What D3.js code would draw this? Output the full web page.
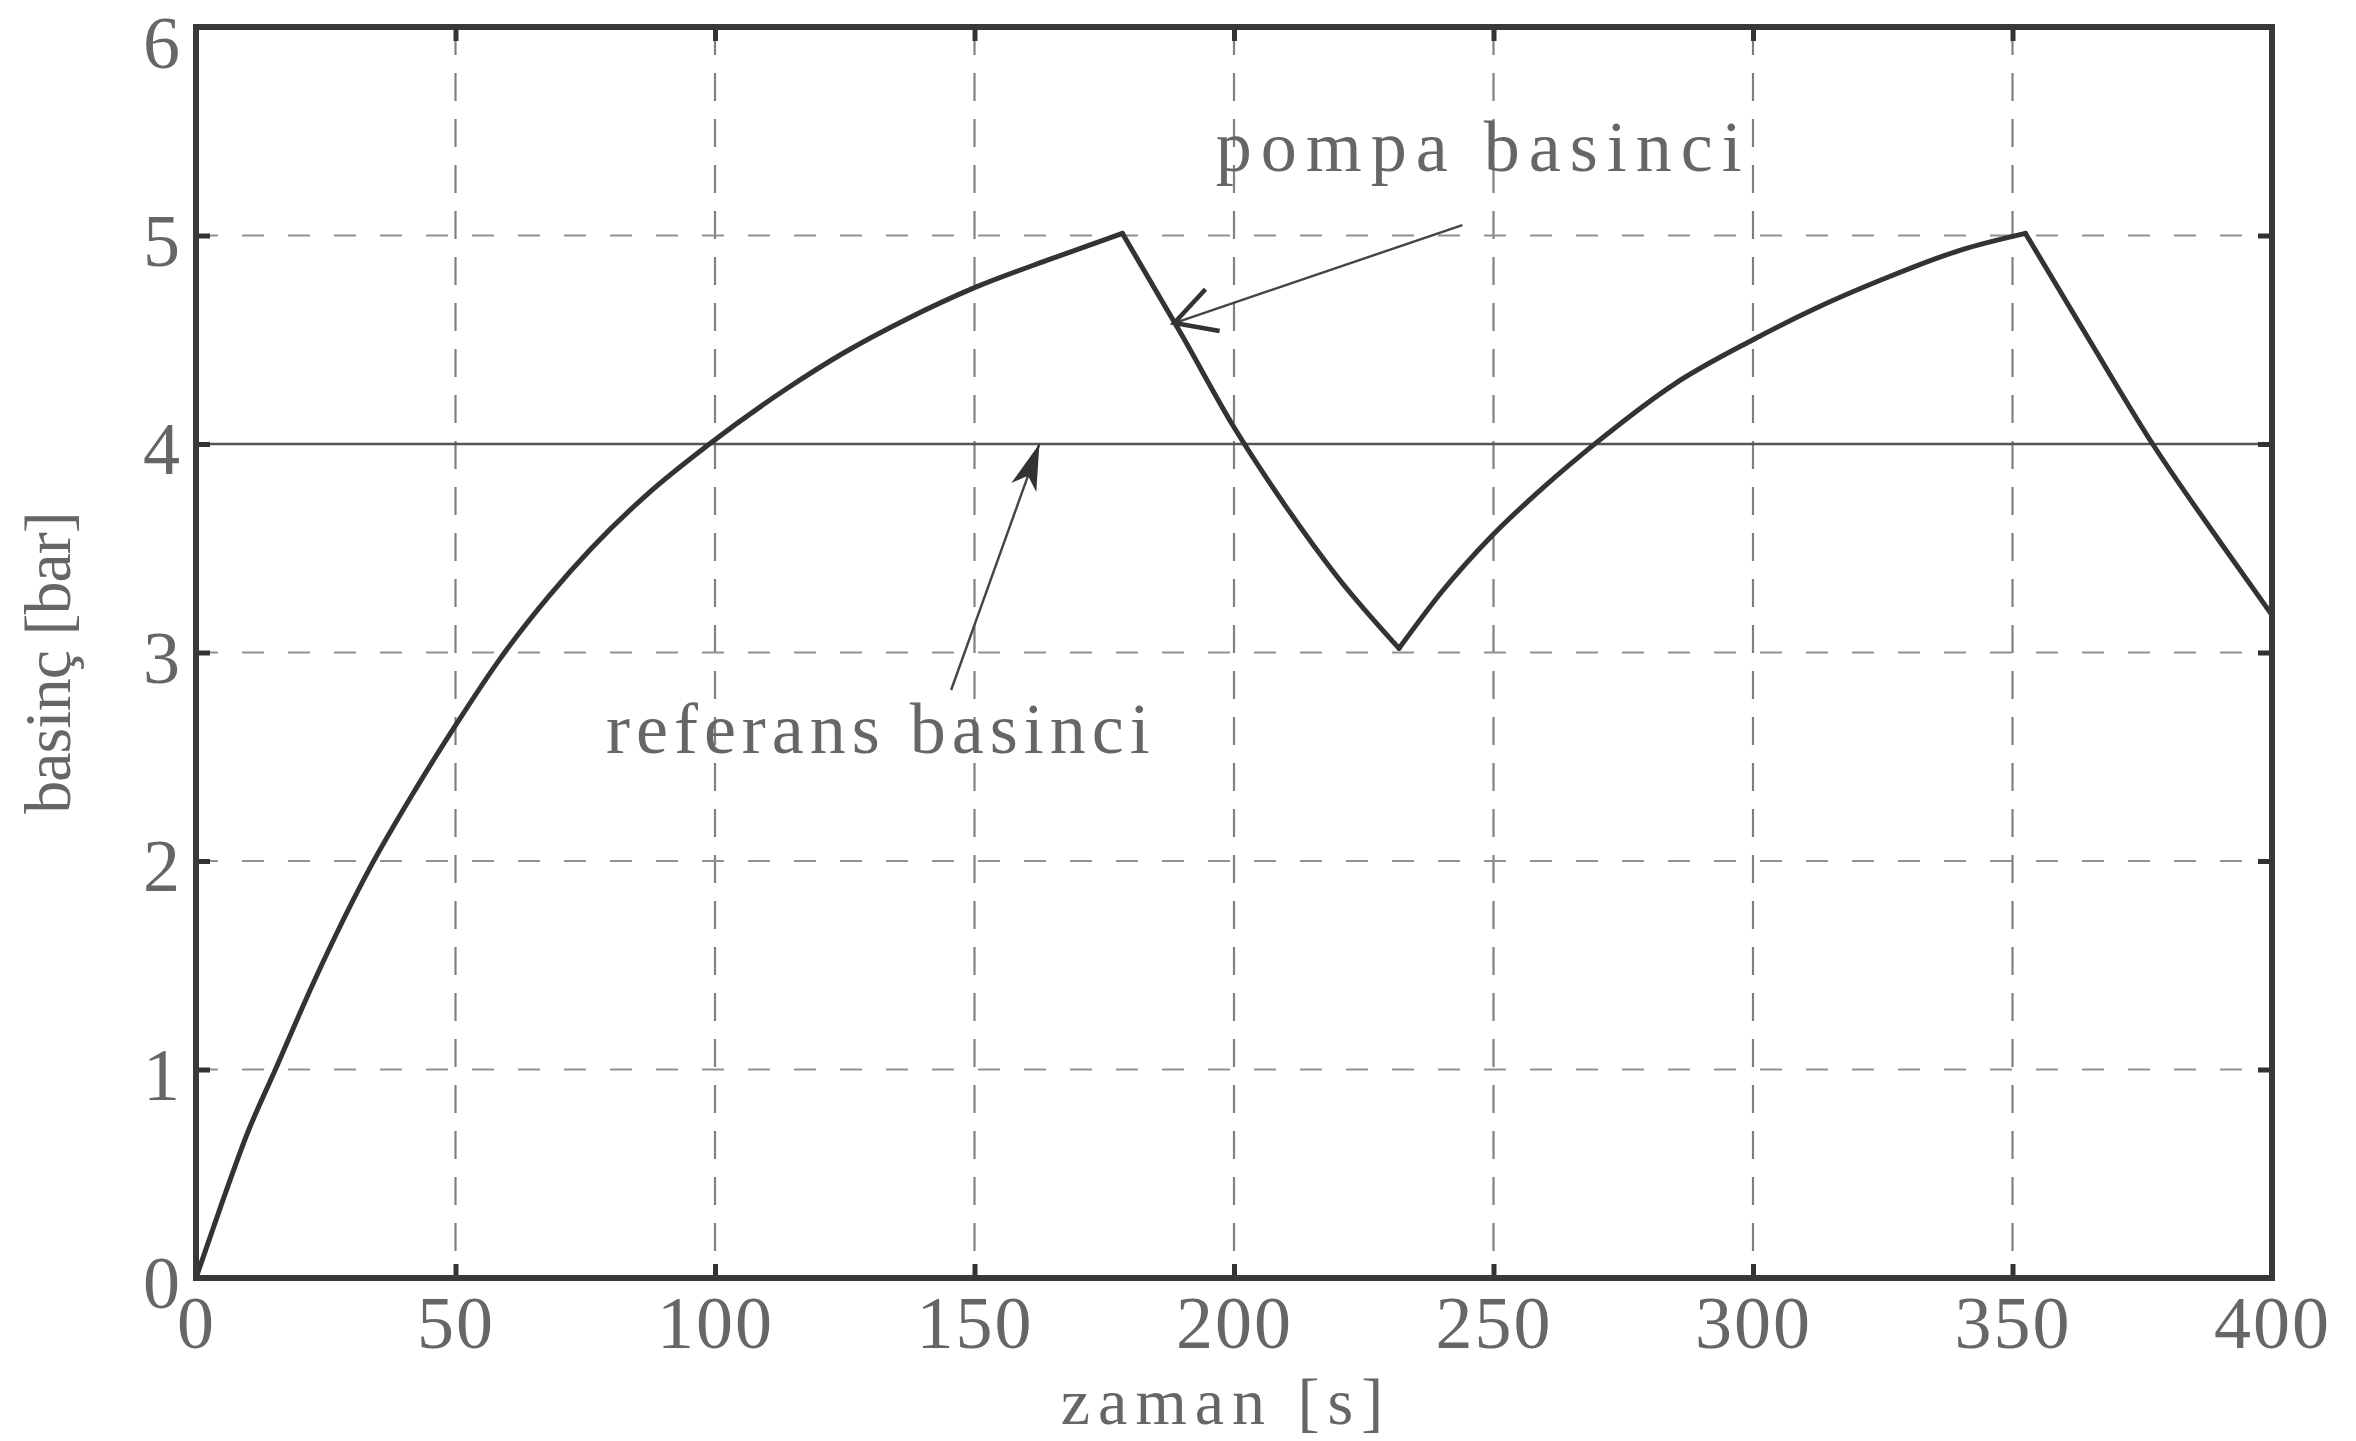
<!DOCTYPE html>
<html>
<head>
<meta charset="utf-8">
<script src="https://cdn.jsdelivr.net/npm/d3@7"></script>
<style>
  html, body { margin: 0; padding: 0; background: #ffffff; }
  svg { display: block; }
  text { font-family: "Liberation Serif", "DejaVu Serif", serif; fill: #666; }
</style>
</head>
<body>
<svg id="chart" width="2356" height="1441"></svg>
<script>
// ---- data ----
const timeS = [0, 5, 10, 15.3, 22.7, 33.8, 42.2, 50, 58.3, 68, 76.2, 87, 98.4, 113.5, 125, 137, 150, 165, 178.5,
               190, 200, 210, 220, 231.8,
               240, 249.7, 260, 270, 285, 300, 312, 325, 340, 352.5,
               365, 377, 390, 400];
const pumpBar = [0, 0.36, 0.7, 1.0, 1.42, 1.98, 2.34, 2.65, 2.96, 3.27, 3.5, 3.76, 3.99, 4.26, 4.44, 4.6, 4.75, 4.89, 5.01,
                 4.52, 4.08, 3.7, 3.36, 3.02,
                 3.29, 3.56, 3.8, 4.01, 4.29, 4.5, 4.65, 4.79, 4.93, 5.01,
                 4.49, 4.0, 3.53, 3.18];
const refTime = [0, 400];
const refBar = [4, 4];
const xTicks = [0, 50, 100, 150, 200, 250, 300, 350, 400];
const yTicks = [0, 1, 2, 3, 4, 5, 6];
const xTickLabels = ["0", "50", "100", "150", "200", "250", "300", "350", "400"];
const yTickLabels = ["0", "1", "2", "3", "4", "5", "6"];
const xTitle = "zaman [s]";
const yTitle = "basinç [bar]";
const pumpLabel = "pompa basinci";
const refLabel = "referans basinci";
// annotation arrows: [tailTime, tailBar, tipTime, tipBar]
const pumpArrow = [244, 5.05, 188.5, 4.58];
const refArrow = [145.5, 2.82, 162.5, 4.0];
const pumpLabelPos = [196.5, 5.31];
const refLabelPos = [79, 2.52];

// ---- layout ----
const svg = d3.select("#chart");
const L = 196, R = 2272, T = 27, B = 1278;
const x = d3.scaleLinear().domain([0, 400]).range([L, R]);
const y = d3.scaleLinear().domain([0, 6]).range([B, T]);

// grid
const grid = svg.append("g");
grid.selectAll("line.v").data(xTicks.slice(1, -1)).enter().append("line")
  .attr("x1", d => x(d)).attr("x2", d => x(d)).attr("y1", T).attr("y2", B)
  .attr("stroke", "#808080").attr("stroke-width", 2.2).attr("stroke-dasharray", "28,18");
grid.selectAll("line.h").data(yTicks.slice(1, -1)).enter().append("line")
  .attr("y1", d => y(d)).attr("y2", d => y(d)).attr("x1", L).attr("x2", R)
  .attr("stroke", "#909090").attr("stroke-width", 2.2).attr("stroke-dasharray", "22,24");

// reference line
const line = d3.line().x(d => x(d[0])).y(d => y(d[1]));
svg.append("path").datum(refTime.map((t, i) => [t, refBar[i]]))
  .attr("d", line).attr("fill", "none").attr("stroke", "#555").attr("stroke-width", 2.6);

// pump pressure: split at turning points, smooth within each segment
const pts = timeS.map((t, i) => [t, pumpBar[i]]);
const segs = [];
let start = 0;
for (let i = 1; i < pts.length - 1; i++) {
  const a = pts[i][1] - pts[i - 1][1], b = pts[i + 1][1] - pts[i][1];
  if (a * b < 0) { segs.push(pts.slice(start, i + 1)); start = i; }
}
segs.push(pts.slice(start));
const curve = d3.line().x(d => x(d[0])).y(d => y(d[1])).curve(d3.curveMonotoneX);
svg.append("g").selectAll("path").data(segs).enter().append("path")
  .attr("d", curve).attr("fill", "none").attr("stroke", "#333")
  .attr("stroke-width", 5).attr("stroke-linejoin", "miter").attr("stroke-linecap", "round");

// axes
const fs = 74;
const ax = svg.append("g").attr("transform", `translate(0,${B})`)
  .call(d3.axisBottom(x).tickValues(xTicks).tickFormat((d, i) => xTickLabels[i]).tickSize(-14).tickPadding(17));
const ay = svg.append("g").attr("transform", `translate(${L},0)`)
  .call(d3.axisLeft(y).tickValues(yTicks).tickFormat((d, i) => yTickLabels[i]).tickSize(-14).tickPadding(14));
const at = svg.append("g").attr("transform", `translate(0,${T})`)
  .call(d3.axisTop(x).tickValues(xTicks).tickFormat("").tickSize(-14));
const ar = svg.append("g").attr("transform", `translate(${R},0)`)
  .call(d3.axisRight(y).tickValues(yTicks).tickFormat("").tickSize(-14));
[ax, ay, at, ar].forEach(g => {
  g.select(".domain").remove();
  g.selectAll(".tick line").attr("stroke", "#333").attr("stroke-width", 5);
  g.selectAll(".tick text").style("font-family", '"Liberation Serif", serif').style("font-size", fs + "px")
    .style("letter-spacing", "2px").attr("fill", "#666");
});
ay.selectAll(".tick text").attr("dy", d => d === 6 ? "0.55em" : "0.40em");

// frame
svg.append("rect").attr("x", L).attr("y", T).attr("width", R - L).attr("height", B - T)
  .attr("fill", "none").attr("stroke", "#383838").attr("stroke-width", 6);

// titles
svg.append("text").attr("x", 1226).attr("y", 1424).attr("text-anchor", "middle")
  .style("font-size", "66px").style("letter-spacing", "8px").text(xTitle);
svg.append("text").attr("transform", "translate(70,663) rotate(-90)").attr("text-anchor", "middle")
  .style("font-size", "66px").style("letter-spacing", "-1px").text(yTitle);

// annotations
svg.append("text").attr("x", x(pumpLabelPos[0])).attr("y", y(pumpLabelPos[1]))
  .style("font-size", "72px").style("letter-spacing", "9px").text(pumpLabel);
svg.append("text").attr("x", x(refLabelPos[0])).attr("y", y(refLabelPos[1]))
  .style("font-size", "72px").style("letter-spacing", "6px").text(refLabel);

function arrow(a, filled) {
  const x1 = x(a[0]), y1 = y(a[1]), x2 = x(a[2]), y2 = y(a[3]);
  const ang = Math.atan2(y2 - y1, x2 - x1);
  svg.append("line").attr("x1", x1).attr("y1", y1).attr("x2", x2).attr("y2", y2)
    .attr("stroke", "#444").attr("stroke-width", 2.4);
  const len = filled ? 48 : 46, spread = filled ? 0.28 : 0.5;
  const p1 = [x2 - len * Math.cos(ang - spread), y2 - len * Math.sin(ang - spread)];
  const p2 = [x2 - len * Math.cos(ang + spread), y2 - len * Math.sin(ang + spread)];
  if (filled) {
    const pm = [x2 - len * 0.7 * Math.cos(ang), y2 - len * 0.7 * Math.sin(ang)];
    svg.append("path").attr("d", `M${x2},${y2}L${p1[0]},${p1[1]}L${pm[0]},${pm[1]}L${p2[0]},${p2[1]}Z`)
      .attr("fill", "#333");
  } else {
    svg.append("path").attr("d", `M${p1[0]},${p1[1]}L${x2},${y2}L${p2[0]},${p2[1]}`)
      .attr("fill", "none").attr("stroke", "#333").attr("stroke-width", 4.5);
  }
}
arrow(pumpArrow, false);
arrow(refArrow, true);
</script>
</body>
</html>
